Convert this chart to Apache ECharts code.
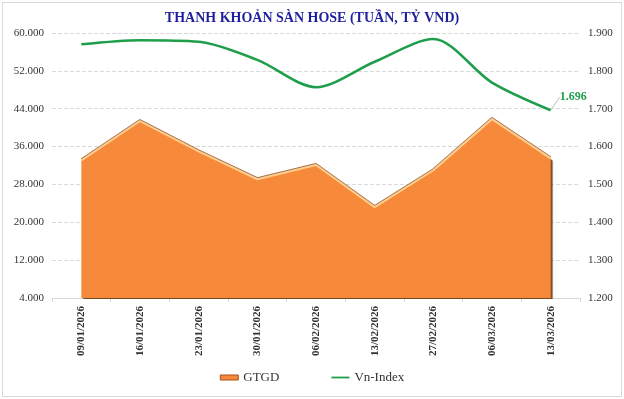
<!DOCTYPE html>
<html>
<head>
<meta charset="utf-8">
<script src="https://cdn.jsdelivr.net/npm/echarts@6/dist/echarts.min.js"></script>
<style>
  html, body { margin: 0; padding: 0; background: #fff; }
  #main { width: 624px; height: 399px; }
  .frame { position: absolute; left: 2px; top: 2px; width: 618px; height: 393px; border: 1px solid #d9d9d9; pointer-events: none; }
</style>
</head>
<body>
<div id="main"></div>
<div class="frame"></div>
<script>
// tuần giao dịch
const weeks = ['09/01/2026', '16/01/2026', '23/01/2026', '30/01/2026', '06/02/2026', '13/02/2026', '27/02/2026', '06/03/2026', '13/03/2026'];
// GTGD (tỷ VND)
const gtgd = [33100, 41400, 35000, 29100, 32100, 23200, 31000, 41800, 33500];
// Vn-Index
const vnIndex = [1870, 1881, 1877, 1829, 1757, 1824, 1884, 1769, 1696];

const serif = 'Liberation Serif';
const fmt = v => Math.round(v).toString().replace(/\B(?=(\d{3})+(?!\d))/g, '.');

const chart = echarts.init(document.getElementById('main'));

// chỉ điểm cuối có nhãn
const vnData = vnIndex.map((v, i) => {
  if (i !== vnIndex.length - 1) return v;
  return {
    value: v,
    label: {
      show: true,
      position: 'right',
      formatter: p => fmt(p.value),
      color: '#1e9e4a',
      fontFamily: serif,
      fontWeight: 'bold',
      fontSize: 12
    },
    labelLine: { show: true, lineStyle: { color: '#bfbfbf', width: 1 } }
  };
});

chart.setOption({
  animation: false,
  title: {
    text: 'THANH KHOẢN SÀN HOSE (TUẦN, TỶ VND)',
    left: 'center',
    top: 6,
    textStyle: { fontFamily: serif, fontWeight: 'bold', fontSize: 14, color: '#1f1f9e' }
  },
  grid: { left: 52, right: 44, top: 33, bottom: 101 },
  legend: {
    bottom: 10,
    left: 'center',
    itemGap: 52,
    itemWidth: 18,
    itemHeight: 5,
    textStyle: { fontFamily: serif, fontSize: 13, color: '#333' },
    data: [
      { name: 'GTGD', icon: 'rect', itemStyle: { color: '#f68a3a', borderColor: '#a4541c', borderWidth: 1 } },
      { name: 'Vn-Index', icon: 'path://M0,0 L20,0 L20,2 L0,2 Z' }
    ]
  },
  xAxis: {
    type: 'category',
    data: weeks,
    boundaryGap: true,
    axisLine: { lineStyle: { color: '#d9d9d9' } },
    axisTick: { show: true, length: 4, lineStyle: { color: '#d9d9d9' } },
    axisLabel: {
      rotate: 90,
      interval: 0,
      margin: 8,
      color: '#333',
      fontFamily: serif,
      fontWeight: 'bold',
      fontSize: 11
    }
  },
  yAxis: [
    {
      type: 'value',
      min: 4000,
      max: 60000,
      interval: 8000,
      axisLine: { show: false },
      axisTick: { show: false },
      axisLabel: { formatter: fmt, color: '#333', fontFamily: serif, fontSize: 11, margin: 8 },
      splitLine: { lineStyle: { color: '#d9d9d9', type: 'dashed' } }
    },
    {
      type: 'value',
      min: 1200,
      max: 1900,
      interval: 100,
      axisLine: { show: false },
      axisTick: { show: false },
      axisLabel: { formatter: fmt, color: '#333', fontFamily: serif, fontSize: 11, margin: 8 },
      splitLine: { show: false }
    }
  ],
  series: [
    {
      name: 'GTGD',
      type: 'line',
      yAxisIndex: 0,
      data: gtgd,
      symbol: 'none',
      itemStyle: { color: '#f68a3a' },
      lineStyle: {
        color: '#ffcf8f',
        width: 2,
        shadowColor: 'rgba(143,74,24,0.8)',
        shadowOffsetY: -1
      },
      areaStyle: {
        color: '#f68a3a',
        opacity: 1,
        shadowColor: 'rgba(110,55,12,0.9)',
        shadowOffsetX: 2,
        shadowOffsetY: 2,
        shadowBlur: 1
      },
      z: 1
    },
    {
      name: 'Vn-Index',
      type: 'line',
      yAxisIndex: 1,
      data: vnData,
      smooth: 0.3,
      symbol: 'circle',
      symbolSize: 0,
      showSymbol: true,
      itemStyle: { color: '#1e9e4a' },
      lineStyle: { color: '#1e9e4a', width: 2.5 },
      labelLayout: { dx: 4, dy: -13 },
      z: 3
    }
  ]
});
</script>
</body>
</html>
